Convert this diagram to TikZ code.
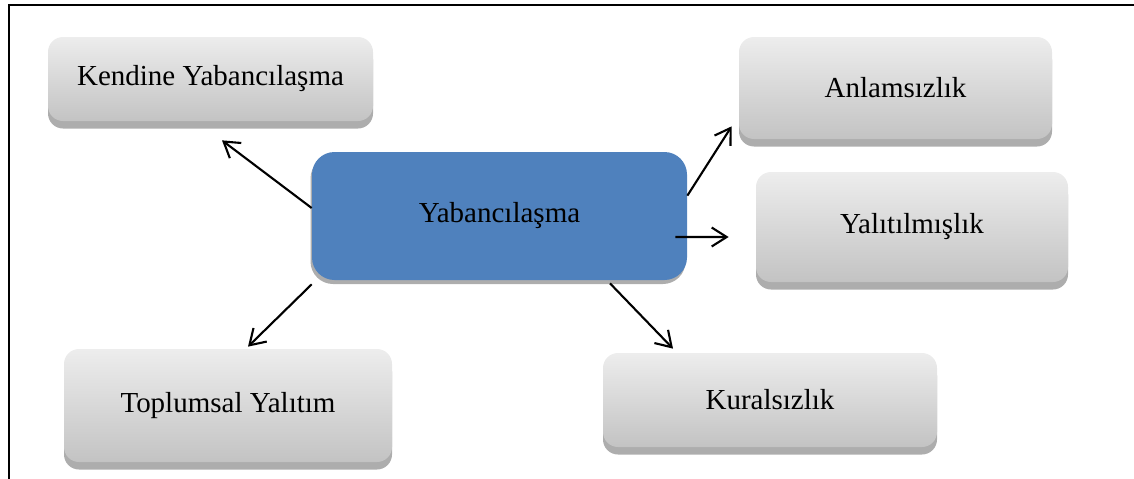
\documentclass[tikz,border=0pt]{standalone}
\usepackage{fontspec}
\setmainfont{Liberation Serif}
\usetikzlibrary{shadows,arrows.meta}
\definecolor{boxtop}{HTML}{EDEDED}
\definecolor{boxbottom}{HTML}{C3C3C3}
\definecolor{boxshadow}{HTML}{ADADAD}
\definecolor{centerblue}{HTML}{4F81BD}
\begin{document}
\begin{tikzpicture}[
  graybox/.style={rounded corners=0.3cm, top color=boxtop, bottom color=boxbottom,
    general shadow={fill=boxshadow, shadow yshift=-0.15cm},
    font=\fontsize{16.5}{19}\selectfont, inner sep=0pt},
  centerbox/.style={rounded corners=0.45cm, fill=centerblue,
    general shadow={fill=boxshadow, shadow xshift=-0.03cm, shadow yshift=-0.08cm},
    font=\fontsize{16.5}{19}\selectfont, inner sep=0pt},
  link/.style={line width=1.2pt, -{Straight Barb[length=3mm,width=3.8mm]}}
]
  \useasboundingbox (0,0) rectangle (22.68,-9.58);
  \draw[line width=1.1pt] (0.18,-9.58) -- (0.18,-0.1) -- (22.68,-0.1);

  \node[centerbox, minimum width=7.5cm, minimum height=2.56cm] (yab) at (9.99,-4.32) {Yabanc\i la\c sma};
  \node[graybox, minimum width=6.5cm, minimum height=1.68cm] (kendine) at (4.21,-1.58) {Kendine Yabanc\i la\c sma};
  \node[graybox, minimum width=6.26cm, minimum height=2.04cm] (anlam) at (17.91,-1.76) {Anlams\i zl\i k};
  \node[graybox, minimum width=6.24cm, minimum height=2.2cm] (yalit) at (18.24,-4.54) {Yal\i t\i lm\i\c sl\i k};
  \node[graybox, minimum width=6.56cm, minimum height=2.26cm] (toplum) at (4.56,-8.11) {Toplumsal Yal\i t\i m};
  \node[graybox, minimum width=6.68cm, minimum height=1.88cm] (kural) at (15.4,-8.0) {Kurals\i zl\i k};

  \draw[link] ([yshift=0.16cm]yab.west) -- ([shift={(0.23,-0.38)}]kendine.south);
  \draw[link] ([yshift=-0.88cm]yab.north east) -- ([shift={(-0.14,0.26)}]anlam.south west);
  \draw[link] ([shift={(-0.24,-0.42)}]yab.east) -- ([shift={(-0.54,-0.2)}]yalit.west);
  \draw[link] ([yshift=-0.08cm]yab.south west) -- ([shift={(0.4,0.04)}]toplum.north);
  \draw[link] ([shift={(2.21,-0.06)}]yab.south) -- ([shift={(-1.94,0.08)}]kural.north);
\end{tikzpicture}
\end{document}
